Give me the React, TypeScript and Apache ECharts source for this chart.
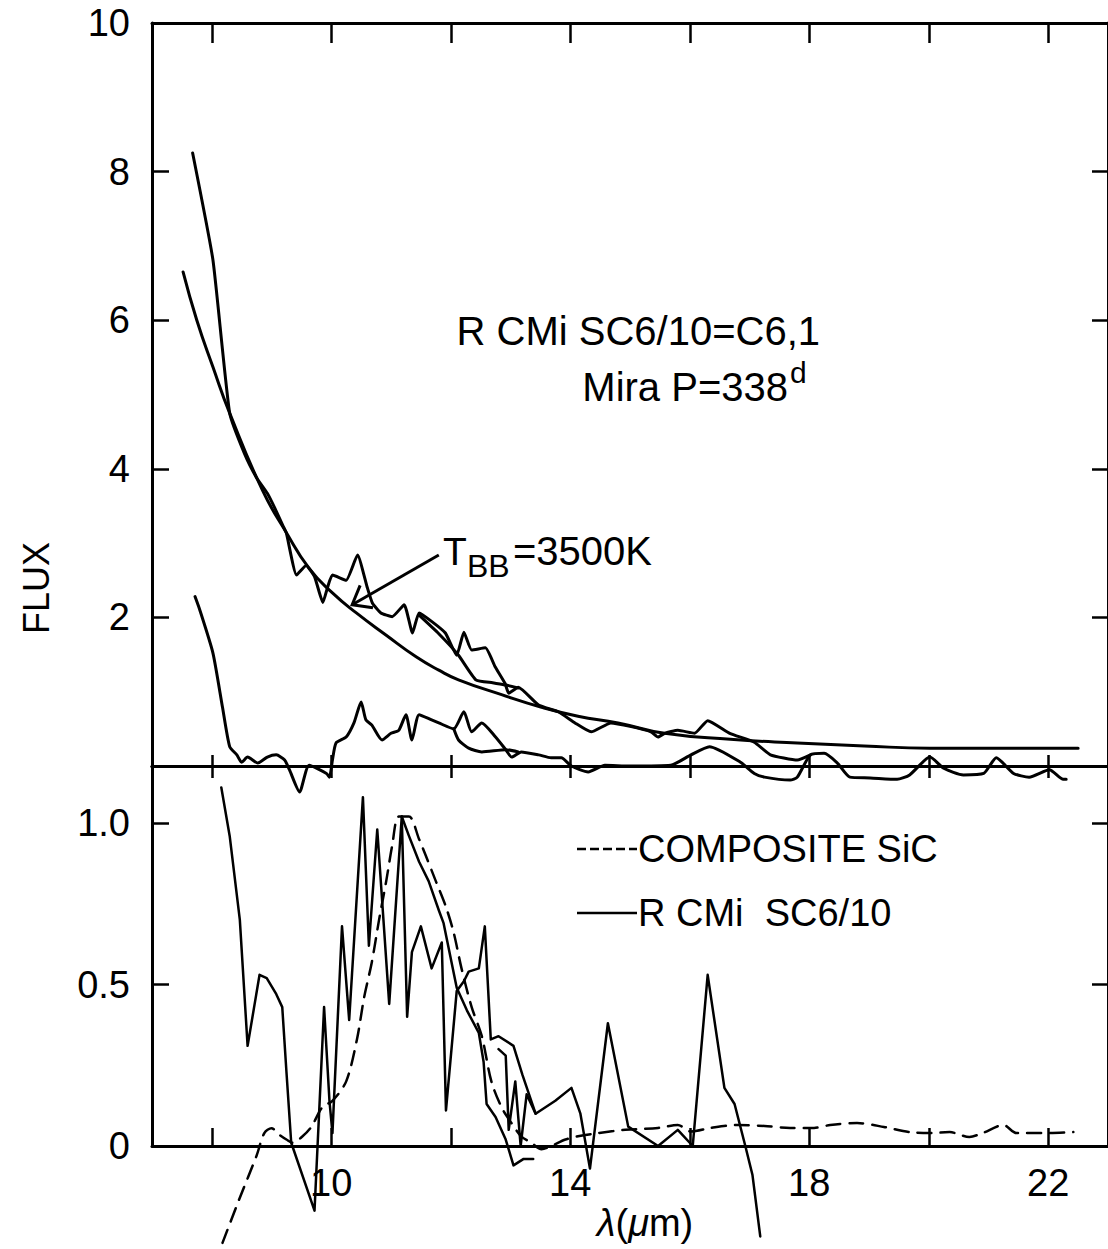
import React, { useEffect, useRef } from "react";
import * as echarts from "echarts";

// ---------- axis ranges / ticks ----------
const X_MIN = 7;
const X_MAX = 23;
const xTickValues = [8, 10, 12, 14, 16, 18, 20, 22];
const xLabelValues = [10, 14, 18, 22];
const topYTickValues = [2, 4, 6, 8];
const topYLabelValues = [2, 4, 6, 8, 10];
const TOP_Y_MAX = 10;
const botYTickValues = [0.5, 1.0];
const botYLabelValues = [0, 0.5, 1.0];
const BOT_Y_MAX = 1.1765;

// ---------- top panel: flux ----------
const blackbody3500K: [number, number][] = [
  [7.52, 6.65], [7.75, 6.0], [8.02, 5.37], [8.3, 4.75], [8.85, 3.71], [9.25, 3.14],
  [9.63, 2.66], [10.02, 2.33], [10.42, 2.06], [10.92, 1.76], [11.42, 1.47], [11.8, 1.29],
  [12.13, 1.16], [12.85, 0.96], [13.52, 0.79], [14.13, 0.67], [14.8, 0.58], [15.58, 0.44],
  [16.68, 0.36], [17.8, 0.31], [18.92, 0.27], [20.02, 0.24], [21.13, 0.24], [22.5, 0.24],
];

const observedFlux: [number, number][] = [
  [7.68, 8.25], [8.02, 6.81], [8.3, 4.75], [8.55, 4.2], [8.75, 3.88], [8.93, 3.67],
  [9.05, 3.48], [9.2, 3.22], [9.25, 3.13], [9.42, 2.57], [9.58, 2.7], [9.72, 2.55],
  [9.86, 2.2], [9.94, 2.41], [10.02, 2.57], [10.25, 2.5], [10.44, 2.84], [10.6, 2.41],
  [10.69, 2.19], [10.83, 2.06], [11.02, 2.01], [11.22, 2.17], [11.36, 1.79], [11.47, 2.06],
  [11.69, 1.94], [11.91, 1.79], [12.1, 1.49], [12.22, 1.8], [12.35, 1.56], [12.58, 1.59],
  [12.74, 1.34], [12.91, 1.11], [12.97, 0.98], [13.13, 1.06], [13.47, 0.82], [13.8, 0.73],
  [14.08, 0.58], [14.35, 0.46], [14.68, 0.58], [15.02, 0.53], [15.35, 0.46], [15.47, 0.39],
  [15.58, 0.44], [15.8, 0.48], [16.08, 0.44], [16.3, 0.61], [16.67, 0.44], [17.08, 0.32],
  [17.35, 0.15], [17.8, 0.08], [18.02, 0.15],
];

const observedFluxAlt: [number, number][] = [
  [11.47, 2.03], [11.8, 1.78], [12.13, 1.49], [12.42, 1.16], [12.7, 1.12], [12.92, 1.09],
  [13.13, 1.05],
];

const residualFlux: [number, number][] = [
  [7.72, 2.28], [7.8, 2.1], [8.02, 1.52], [8.18, 0.79], [8.3, 0.26], [8.42, 0.15],
  [8.5, 0.05], [8.6, 0.12], [8.77, 0.04], [8.93, 0.12], [9.08, 0.15], [9.22, 0.08],
  [9.3, -0.05], [9.47, -0.35], [9.63, 0.01], [9.92, -0.1], [9.97, -0.15], [10.02, 0.08],
  [10.08, 0.31], [10.25, 0.39], [10.38, 0.58], [10.5, 0.86], [10.58, 0.62], [10.68, 0.55],
  [10.85, 0.35], [11.0, 0.44], [11.13, 0.48], [11.25, 0.69], [11.35, 0.35], [11.47, 0.69],
  [11.68, 0.62], [11.8, 0.58], [12.05, 0.5], [12.22, 0.73], [12.35, 0.46], [12.52, 0.58],
  [12.75, 0.39], [12.92, 0.22], [13.02, 0.12], [13.18, 0.19], [13.47, 0.15], [13.68, 0.11],
  [13.85, 0.11], [14.02, 0.0], [14.3, -0.08], [14.58, 0.01], [15.0, 0.0], [15.68, 0.01],
  [16.02, 0.15], [16.33, 0.26], [16.85, 0.05], [17.08, -0.1], [17.25, -0.15], [17.68, -0.19],
  [17.8, -0.15], [18.02, 0.15], [18.25, 0.17], [18.47, 0.04], [18.68, -0.15], [19.02, -0.16],
  [19.47, -0.18], [19.68, -0.12], [20.02, 0.12], [20.25, -0.03], [20.58, -0.12], [20.92, -0.1],
  [21.13, 0.11], [21.42, -0.1], [21.68, -0.15], [22.02, -0.05], [22.25, -0.18], [22.3, -0.18],
];

const residualFluxAlt: [number, number][] = [
  [12.05, 0.5], [12.13, 0.35], [12.3, 0.24], [12.52, 0.19], [12.92, 0.22], [13.13, 0.19],
];

// ---------- bottom panel: normalised excess ----------
const compositeSiC: [number, number][] = [
  [8.18, -0.3], [8.47, -0.16], [8.75, -0.03], [8.88, 0.04], [9.0, 0.055], [9.13, 0.035],
  [9.25, 0.02], [9.35, 0.01], [9.52, 0.03], [9.67, 0.06], [9.85, 0.12], [10.02, 0.14],
  [10.25, 0.2], [10.43, 0.33], [10.55, 0.46], [10.68, 0.57], [10.8, 0.7], [10.92, 0.82],
  [11.02, 0.93], [11.13, 1.02], [11.3, 1.02], [11.47, 0.95], [11.58, 0.9], [11.75, 0.82],
  [11.92, 0.74], [12.05, 0.66], [12.18, 0.55], [12.35, 0.43], [12.52, 0.34], [12.68, 0.2],
  [12.85, 0.12], [13.02, 0.07], [13.18, 0.03], [13.35, 0.01], [13.52, -0.01], [13.68, 0.0],
  [13.92, 0.02], [14.13, 0.03], [14.47, 0.04], [14.92, 0.05], [15.47, 0.056], [15.8, 0.065],
  [16.02, 0.045], [16.35, 0.056], [16.8, 0.065], [17.25, 0.062], [17.68, 0.056], [18.08, 0.056],
  [18.35, 0.065], [18.8, 0.071], [19.25, 0.059], [19.68, 0.043], [20.02, 0.04], [20.35, 0.043],
  [20.68, 0.028], [20.9, 0.04], [21.25, 0.065], [21.47, 0.04], [22.02, 0.04], [22.42, 0.043],
];

const rcmiExcess: [number, number][] = [
  [8.16, 1.11], [8.3, 0.96], [8.47, 0.7], [8.6, 0.31], [8.8, 0.53], [8.92, 0.52],
  [9.08, 0.47], [9.18, 0.43], [9.25, 0.23], [9.33, 0.01], [9.72, -0.2], [9.88, 0.43],
  [9.97, 0.14], [10.02, 0.04], [10.18, 0.68], [10.3, 0.39], [10.53, 1.08], [10.63, 0.62],
  [10.77, 0.98], [10.97, 0.44], [11.18, 1.02], [11.27, 0.4], [11.35, 0.6], [11.5, 0.68],
  [11.68, 0.55], [11.85, 0.63], [11.92, 0.11], [12.1, 0.48], [12.22, 0.51], [12.3, 0.54],
  [12.47, 0.55], [12.57, 0.68], [12.67, 0.33], [12.8, 0.34], [13.05, 0.31], [13.2, 0.22],
  [13.42, 0.1], [13.75, 0.14], [14.02, 0.18], [14.17, 0.1], [14.33, -0.07], [14.63, 0.38],
  [14.97, 0.06], [15.47, 0.0], [15.8, 0.05], [16.05, 0.0], [16.3, 0.53], [16.58, 0.18],
  [16.75, 0.13], [16.93, 0.0], [17.05, -0.09], [17.18, -0.28],
];

const rcmiExcessAlt: [number, number][] = [
  [11.18, 1.02], [11.3, 0.96], [11.47, 0.88], [11.63, 0.82], [11.8, 0.73], [11.88, 0.69],
  [12.1, 0.49], [12.27, 0.42], [12.47, 0.35], [12.55, 0.26], [12.6, 0.13], [12.75, 0.09],
  [12.92, 0.02], [13.05, -0.06], [13.22, -0.04], [13.38, -0.04],
];

const rcmiExcessAlt2: [number, number][] = [
  [12.8, 0.3], [12.92, 0.28], [12.97, 0.05], [13.08, 0.2], [13.17, 0.0], [13.27, 0.16],
  [13.42, 0.1],
];

// annotation arrow (data coordinates of the top panel)
const arrowTip: [number, number] = [10.35, 2.17];
const arrowTail: [number, number] = [11.8, 2.84];

const FONT = "'Liberation Sans', Arial, Helvetica, sans-serif";
const BLACK = "#000";

function xAxisDef(gridIndex: number, position: string, tickLen: number, labels: boolean) {
  return {
    type: "value",
    gridIndex,
    position,
    min: X_MIN,
    max: X_MAX,
    axisLine: { show: true, onZero: false, lineStyle: { color: BLACK, width: 3 } },
    axisTick: {
      show: true,
      inside: true,
      length: tickLen,
      customValues: xTickValues,
      lineStyle: { color: BLACK, width: 2.5 },
    },
    axisLabel: labels
      ? {
          show: true,
          customValues: xLabelValues,
          fontSize: 38,
          fontFamily: FONT,
          color: BLACK,
          margin: 18,
        }
      : { show: false },
    splitLine: { show: false },
  };
}

function yAxisDef(
  gridIndex: number,
  position: string,
  max: number,
  ticks: number[],
  labels: number[] | null,
  tickLen: number
) {
  return {
    type: "value",
    gridIndex,
    position,
    min: 0,
    max,
    axisLine: { show: true, onZero: false, lineStyle: { color: BLACK, width: 3 } },
    axisTick: {
      show: true,
      inside: true,
      length: tickLen,
      customValues: ticks,
      lineStyle: { color: BLACK, width: 2.5 },
    },
    axisLabel: labels
      ? {
          show: true,
          customValues: labels,
          fontSize: 38,
          fontFamily: FONT,
          color: BLACK,
          margin: 22,
          formatter: (v: number) => (max < 5 ? (v === 0 ? "0" : v.toFixed(1)) : String(v)),
        }
      : { show: false },
    splitLine: { show: false },
  };
}

function lineSeries(
  name: string,
  data: [number, number][],
  xi: number,
  yi: number,
  width: number,
  smooth: number | boolean,
  dashed = false
) {
  return {
    type: "line",
    name,
    data,
    xAxisIndex: xi,
    yAxisIndex: yi,
    showSymbol: false,
    symbol: "none",
    smooth,
    clip: false,
    silent: true,
    z: 3,
    emphasis: { disabled: true },
    lineStyle: {
      color: BLACK,
      width,
      type: dashed ? [14, 9] : "solid",
      cap: "round",
      join: "round",
    },
  };
}

function text(
  str: string,
  x: number,
  y: number,
  size: number,
  align = "left",
  extra: Record<string, unknown> = {}
) {
  return {
    type: "text",
    x,
    y,
    z: 10,
    silent: true,
    ...extra,
    style: {
      text: str,
      fontSize: size,
      fontFamily: FONT,
      fill: BLACK,
      align,
      verticalAlign: "middle",
    },
  };
}

export default function App() {
  const ref = useRef<HTMLDivElement>(null);

  useEffect(() => {
    if (!ref.current) return;
    const chart = echarts.init(ref.current, undefined, { renderer: "svg" });

    const option = {
      animation: false,
      backgroundColor: "#fff",
      grid: [
        { left: 152, top: 23, width: 960, height: 743, containLabel: false },
        { left: 152, top: 766, width: 960, height: 380, containLabel: false },
      ],
      xAxis: [
        xAxisDef(0, "bottom", 11, false),
        xAxisDef(0, "top", 20, false),
        {
          ...xAxisDef(1, "bottom", 18, true),
          name: "{i|λ}({i|μ}m)",
          nameLocation: "middle",
          nameGap: 58,
          nameTextStyle: {
            fontSize: 38,
            fontFamily: FONT,
            color: BLACK,
            padding: [0, 0, 0, 30],
            rich: { i: { fontSize: 38, fontFamily: FONT, fontStyle: "italic", color: BLACK } },
          },
        },
        xAxisDef(1, "top", 12, false),
      ],
      yAxis: [
        yAxisDef(0, "left", TOP_Y_MAX, topYTickValues, topYLabelValues, 17),
        yAxisDef(0, "right", TOP_Y_MAX, topYTickValues, null, 16),
        yAxisDef(1, "left", BOT_Y_MAX, botYTickValues, botYLabelValues, 17),
        yAxisDef(1, "right", BOT_Y_MAX, botYTickValues, null, 16),
      ],
      series: [
        lineSeries("T_BB=3500K", blackbody3500K, 0, 0, 3, true),
        lineSeries("R CMi observed", observedFlux, 0, 0, 3, 0.15),
        lineSeries("R CMi observed (b)", observedFluxAlt, 0, 0, 3, 0.15),
        lineSeries("R CMi excess", residualFlux, 0, 0, 3, 0.2),
        lineSeries("R CMi excess (b)", residualFluxAlt, 0, 0, 3, 0.2),
        lineSeries("COMPOSITE SiC", compositeSiC, 2, 2, 2.5, 0.3, true),
        lineSeries("R CMi SC6/10", rcmiExcess, 2, 2, 2.5, false),
        lineSeries("R CMi SC6/10 (b)", rcmiExcessAlt, 2, 2, 2.5, false),
        lineSeries("R CMi SC6/10 (c)", rcmiExcessAlt2, 2, 2, 2.5, false),
      ],
    };
    chart.setOption(option as any);

    const tip = chart.convertToPixel({ seriesIndex: 0 }, arrowTip) as number[];
    const tail = chart.convertToPixel({ seriesIndex: 0 }, arrowTail) as number[];
    const ang = Math.atan2(tail[1] - tip[1], tail[0] - tip[0]);
    const L = 21;
    const spread = 0.66;
    const b1 = [tip[0] + L * Math.cos(ang - spread), tip[1] + L * Math.sin(ang - spread)];
    const b2 = [tip[0] + L * Math.cos(ang + spread), tip[1] + L * Math.sin(ang + spread)];

    chart.setOption({
      graphic: [
        text("FLUX", 36, 588, 36, "center", { rotation: Math.PI / 2 }),
        text("R CMi SC6/10=C6,1", 820, 331, 40, "right"),
        text("Mira P=338", 788, 387, 40, "right"),
        text("d", 790, 372, 30, "left"),
        text("T", 443, 551, 39, "left"),
        text("BB", 467, 566, 32, "left"),
        text("=3500K", 513, 551, 40, "left"),
        {
          type: "line",
          z: 10,
          silent: true,
          shape: { x1: tail[0], y1: tail[1], x2: tip[0], y2: tip[1] },
          style: { stroke: BLACK, lineWidth: 3 },
        },
        {
          type: "polyline",
          z: 10,
          silent: true,
          shape: { points: [b1, tip, b2] },
          style: { stroke: BLACK, lineWidth: 3, fill: null },
        },
        {
          type: "line",
          z: 10,
          silent: true,
          shape: { x1: 577, y1: 849, x2: 637, y2: 849 },
          style: { stroke: BLACK, lineWidth: 2.5, lineDash: [9, 4] },
        },
        text("COMPOSITE SiC", 638, 849, 38, "left"),
        {
          type: "line",
          z: 10,
          silent: true,
          shape: { x1: 577, y1: 913, x2: 637, y2: 913 },
          style: { stroke: BLACK, lineWidth: 2.5 },
        },
        text("R CMi  SC6/10", 638, 913, 38, "left"),
      ],
    } as any);

    return () => chart.dispose();
  }, []);

  return (
    <div
      ref={ref}
      style={{ position: "absolute", left: 0, top: 0, width: 1108, height: 1249, background: "#fff" }}
    />
  );
}
